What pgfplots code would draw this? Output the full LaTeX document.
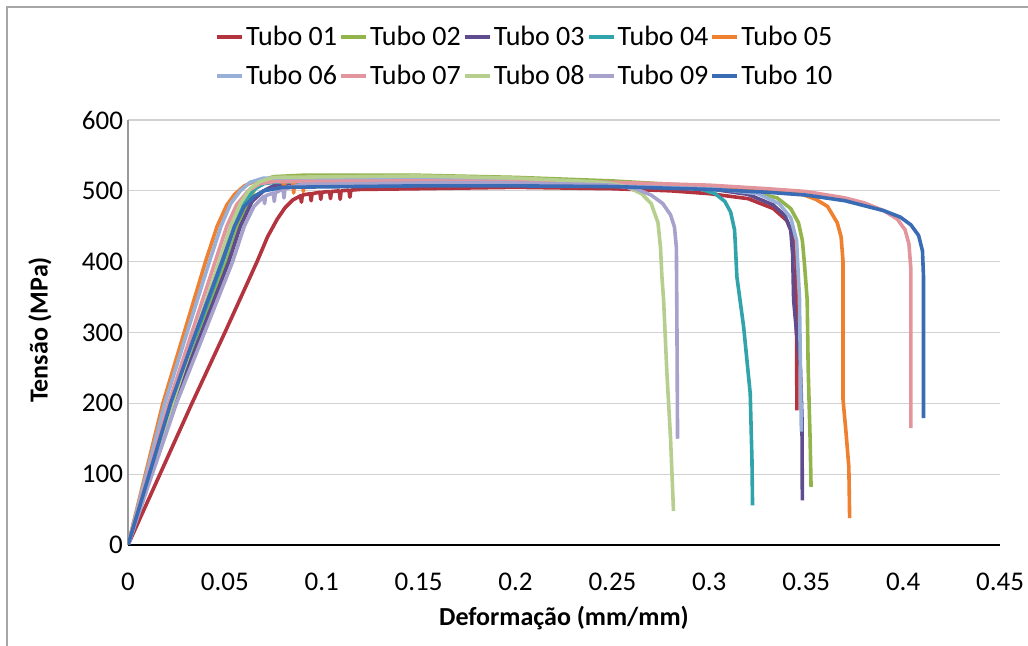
\documentclass[border=0pt]{standalone}
\usepackage{fontspec}
\setmainfont{Carlito}
\usepackage{pgfplots}
\pgfplotsset{compat=1.18}
\definecolor{c01}{HTML}{B3343F}
\definecolor{c02}{HTML}{93B44A}
\definecolor{c03}{HTML}{5E4C8E}
\definecolor{c04}{HTML}{31A3AB}
\definecolor{c05}{HTML}{EE8030}
\definecolor{c06}{HTML}{98B0D8}
\definecolor{c07}{HTML}{E3959E}
\definecolor{c08}{HTML}{B7CF8E}
\definecolor{c09}{HTML}{A7A2CC}
\definecolor{c10}{HTML}{3A6CB5}
\begin{document}
\begin{tikzpicture}
\useasboundingbox (-64pt,-50.5pt) rectangle (450pt,272.5pt);
\draw[gray!70, line width=0.6pt] (-60.5pt,-50.5pt) -- (-60.5pt,269pt) -- (450pt,269pt);
\begin{axis}[
  at={(0pt,0pt)}, anchor=south west,
  scale only axis, width=436pt, height=212.5pt,
  xmin=0, xmax=0.45, ymin=0, ymax=600,
  axis x line*=bottom, axis y line*=left,
  axis line style={-},
  x axis line style={black, line width=0.8pt},
  y axis line style={gray!80, line width=0.8pt},
  xtick={0,0.05,0.1,0.15,0.2,0.25,0.3,0.35,0.4,0.45},
  xticklabels={0,0.05,0.1,0.15,0.2,0.25,0.3,0.35,0.4,0.45},
  ytick={0,100,200,300,400,500,600},
  yticklabels={0,100,200,300,400,500,600},
  major tick length=0pt,
  ymajorgrids, grid style={gray!35, line width=0.6pt},
  tick label style={font=\fontsize{13.5}{16}\selectfont},
  xticklabel style={yshift=-10.5pt},
  yticklabel style={xshift=1pt},
  /pgf/number format/assume math mode=true,
  xlabel={\textbf{Deformação (mm/mm)}},
  ylabel={\textbf{Tensão (MPa)}},
  label style={font=\fontsize{13}{15.6}\selectfont},
  xlabel style={at={(axis description cs:0.5,-0.172)}, anchor=center},
  ylabel style={at={(axis description cs:-0.101,0.506)}, anchor=center, rotate=0},
  legend columns=5,
  legend style={draw=none, fill=none, at={(axis description cs:0.455,1.149)}, anchor=center,
    font=\fontsize{14}{16.8}\selectfont, row sep=6pt,
    /tikz/every even column/.append style={column sep=0pt},
    nodes={inner sep=1pt}},
  legend image code/.code={\draw[#1, line width=2pt] (0pt,0pt) -- (12.5pt,0pt);},
  every axis plot/.append style={line width=1.8pt, line join=round, no markers},
]
\addplot[c01] coordinates {(0,0)(0.0165,100)(0.033,200)(0.05,300)(0.0666,400)(0.072,435)(0.077,460)(0.081,476)(0.085,487)(0.089,493)(0.0895,484)(0.090,494)(0.094,496)(0.0945,486)(0.095,496)(0.099,498)(0.0995,488)(0.100,498)(0.104,499)(0.1045,489)(0.105,499)(0.109,500)(0.1095,488)(0.110,500)(0.114,501)(0.1145,491)(0.115,501)(0.12,502)(0.15,503)(0.2,505)(0.25,503)(0.28,500)(0.3,496)(0.32,489)(0.333,475)(0.34,458)(0.3435,435)(0.3448,400)(0.345,300)(0.3452,190)};
\addlegendentry{Tubo 01}
\addplot[c02] coordinates {(0,0)(0.0115,100)(0.023,200)(0.037,300)(0.051,400)(0.057,450)(0.062,485)(0.066,505)(0.07,515)(0.075,520)(0.09,522)(0.15,522)(0.2,519)(0.25,514)(0.3,506)(0.32,500)(0.335,490)(0.342,475)(0.346,455)(0.348,430)(0.349,400)(0.3505,346)(0.351,250)(0.352,150)(0.3525,82)};
\addlegendentry{Tubo 02}
\addplot[c03] coordinates {(0,0)(0.012,100)(0.024,200)(0.038,300)(0.052,400)(0.058,450)(0.064,485)(0.07,500)(0.075,507)(0.08,510)(0.15,512)(0.2,511)(0.25,509)(0.3,503)(0.32,495)(0.333,480)(0.339,465)(0.342,445)(0.343,410)(0.3435,346)(0.345,300)(0.347,250)(0.3478,180)(0.348,63)};
\addlegendentry{Tubo 03}
\addplot[c04] coordinates {(0,0)(0.011,100)(0.022,200)(0.0355,300)(0.049,400)(0.055,450)(0.06,485)(0.065,502)(0.07,510)(0.075,512)(0.15,514)(0.2,513)(0.25,511)(0.28,508)(0.295,503)(0.303,496)(0.308,485)(0.311,470)(0.313,445)(0.3134,426)(0.3142,379)(0.3177,308)(0.3211,214)(0.322,120)(0.3223,56)};
\addlegendentry{Tubo 04}
\addplot[c05] coordinates {(0,0)(0.009,100)(0.018,200)(0.029,300)(0.04,400)(0.046,450)(0.051,480)(0.055,495)(0.06,507)(0.065,513)(0.08,514)(0.0805,498)(0.081,514)(0.085,514)(0.0855,497)(0.086,514)(0.09,514)(0.0905,499)(0.091,514)(0.1,515)(0.15,515)(0.2,513)(0.25,511)(0.3,506)(0.33,502)(0.345,498)(0.355,488)(0.361,478)(0.366,455)(0.368,435)(0.369,400)(0.369,205)(0.3705,160)(0.372,110)(0.3724,38)};
\addlegendentry{Tubo 05}
\addplot[c06] coordinates {(0,0)(0.0095,100)(0.019,200)(0.0305,300)(0.042,400)(0.048,450)(0.053,482)(0.058,500)(0.063,512)(0.07,518)(0.15,518)(0.2,515)(0.25,511)(0.3,504)(0.325,496)(0.336,482)(0.342,462)(0.345,430)(0.3465,350)(0.347,250)(0.3475,160)};
\addlegendentry{Tubo 06}
\addplot[c07] coordinates {(0,0)(0.0105,100)(0.021,200)(0.033,300)(0.045,400)(0.051,450)(0.056,480)(0.062,500)(0.068,510)(0.075,513)(0.15,514)(0.2,513)(0.25,512)(0.3,508)(0.33,503)(0.35,499)(0.37,490)(0.38,483)(0.39,472)(0.397,460)(0.401,445)(0.403,425)(0.404,390)(0.404,165)};
\addlegendentry{Tubo 07}
\addplot[c08] coordinates {(0,0)(0.0115,100)(0.023,200)(0.035,300)(0.047,400)(0.053,450)(0.058,482)(0.063,503)(0.068,513)(0.075,519)(0.15,521)(0.2,518)(0.24,513)(0.25,510)(0.258,505)(0.265,496)(0.27,482)(0.2735,455)(0.2748,420)(0.2755,380)(0.2764,346)(0.2781,243)(0.28,150)(0.2815,48)};
\addlegendentry{Tubo 08}
\addplot[c09] coordinates {(0,0)(0.0125,100)(0.025,200)(0.0395,300)(0.054,400)(0.06,450)(0.065,478)(0.07,492)(0.0705,482)(0.071,493)(0.075,497)(0.0755,485)(0.076,497)(0.08,503)(0.0805,490)(0.081,503)(0.09,509)(0.15,511)(0.2,511)(0.24,509)(0.25,508)(0.262,503)(0.27,494)(0.276,482)(0.28,466)(0.282,449)(0.283,420)(0.2833,300)(0.2836,150)};
\addlegendentry{Tubo 09}
\addplot[c10] coordinates {(0,0)(0.011,100)(0.022,200)(0.035,300)(0.0485,400)(0.055,450)(0.06,478)(0.065,492)(0.07,500)(0.08,505)(0.15,507)(0.2,507)(0.25,506)(0.3,502)(0.33,498)(0.35,494)(0.37,486)(0.38,479)(0.39,472)(0.3985,463)(0.404,452)(0.408,437)(0.41,415)(0.4105,380)(0.4105,179)};
\addlegendentry{Tubo 10}
\end{axis}
\end{tikzpicture}
\end{document}
